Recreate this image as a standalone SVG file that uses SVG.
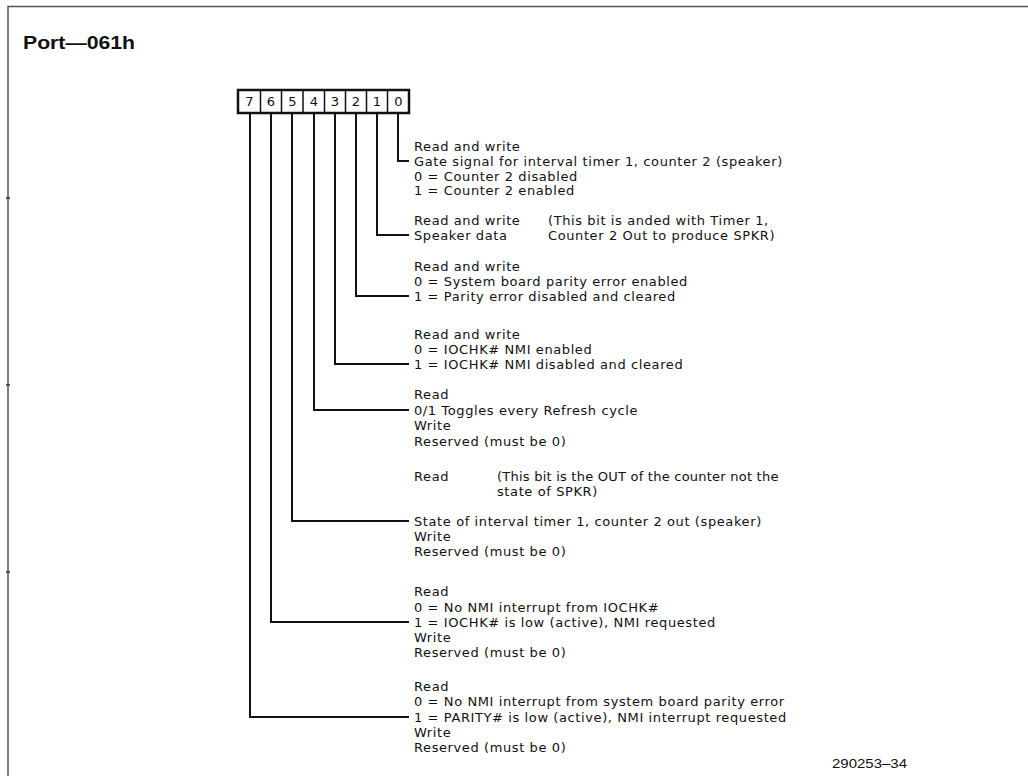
<svg xmlns="http://www.w3.org/2000/svg" width="1028" height="776" viewBox="0 0 1028 776">
<style>
.t{font-family:"DejaVu Sans","Liberation Sans",sans-serif;font-size:13px;letter-spacing:0.6px;fill:#111}
.d{font-family:"DejaVu Sans","Liberation Sans",sans-serif;font-size:13px;fill:#111;text-anchor:middle}
.ttl{font-family:"Liberation Sans",Arial,sans-serif;font-size:18px;font-weight:bold;fill:#111}
.fn{font-family:"Liberation Sans",Arial,sans-serif;font-size:13px;fill:#111}
.ld{fill:none;stroke:#111;stroke-width:2}
.frame{fill:none;stroke:#555;stroke-width:1.5}
</style>
<rect width="1028" height="776" fill="#fff"/>
<g id="frame">
<path class="frame" d="M8,776 V6.5 H1028"/>
<path d="M6,198 H10 M6,385 H10 M6,572 H10" stroke="#333" stroke-width="1.5"/>
</g>
<g id="title"><text class="ttl" x="23" y="49" textLength="112" lengthAdjust="spacingAndGlyphs">Port—061h</text></g>
<g id="register">
<rect x="238" y="90" width="171" height="23" fill="#fff" stroke="#111" stroke-width="2.5"/>
<path d="M260.5,90 V113 M281.5,90 V113 M303,90 V113 M324.5,90 V113 M345.5,90 V113 M366.5,90 V113 M387.5,90 V113" stroke="#111" stroke-width="1.5"/>
<text class="d" x="249.5" y="106">7</text>
<text class="d" x="271" y="106">6</text>
<text class="d" x="292.3" y="106">5</text>
<text class="d" x="313.8" y="106">4</text>
<text class="d" x="335" y="106">3</text>
<text class="d" x="356" y="106">2</text>
<text class="d" x="377" y="106">1</text>
<text class="d" x="398.3" y="106">0</text>
</g>
<g id="connectors">
<path class="ld" d="M398,113 V161 H409"/>
<path class="ld" d="M377,113 V235 H409"/>
<path class="ld" d="M356,113 V296 H409"/>
<path class="ld" d="M335,113 V364 H409"/>
<path class="ld" d="M314,113 V410 H409"/>
<path class="ld" d="M292,113 V521 H409"/>
<path class="ld" d="M271,113 V622 H409"/>
<path class="ld" d="M250,113 V717 H409"/>
</g>
<g id="bit0">
<text class="t" x="414" y="150.5">Read and write</text>
<text class="t" x="414" y="165.5">Gate signal for interval timer 1, counter 2 (speaker)</text>
<text class="t" x="414" y="180.5">0 = Counter 2 disabled</text>
<text class="t" x="414" y="194.5">1 = Counter 2 enabled</text>
</g>
<g id="bit1">
<text class="t" x="414" y="224.5">Read and write</text>
<text class="t" x="548" y="224.5">(This bit is anded with Timer 1,</text>
<text class="t" x="414" y="239.5">Speaker data</text>
<text class="t" x="548" y="239.5">Counter 2 Out to produce SPKR)</text>
</g>
<g id="bit2">
<text class="t" x="414" y="270.5">Read and write</text>
<text class="t" x="414" y="285.5">0 = System board parity error enabled</text>
<text class="t" x="414" y="300.5">1 = Parity error disabled and cleared</text>
</g>
<g id="bit3">
<text class="t" x="414" y="338.5">Read and write</text>
<text class="t" x="414" y="353.5">0 = IOCHK# NMI enabled</text>
<text class="t" x="414" y="368.5">1 = IOCHK# NMI disabled and cleared</text>
</g>
<g id="bit4">
<text class="t" x="414" y="398.5">Read</text>
<text class="t" x="414" y="414.5">0/1 Toggles every Refresh cycle</text>
<text class="t" x="414" y="429.5">Write</text>
<text class="t" x="414" y="445.5">Reserved (must be 0)</text>
</g>
<g id="bit5">
<text class="t" x="414" y="480.5">Read</text>
<text class="t" x="497" y="480.5" textLength="282" lengthAdjust="spacing">(This bit is the OUT of the counter not the</text>
<text class="t" x="497" y="495.5">state of SPKR)</text>
<text class="t" x="414" y="525.5">State of interval timer 1, counter 2 out (speaker)</text>
<text class="t" x="414" y="540.5">Write</text>
<text class="t" x="414" y="555.5">Reserved (must be 0)</text>
</g>
<g id="bit6">
<text class="t" x="414" y="595.5">Read</text>
<text class="t" x="414" y="611.5">0 = No NMI interrupt from IOCHK#</text>
<text class="t" x="414" y="626.5">1 = IOCHK# is low (active), NMI requested</text>
<text class="t" x="414" y="641.5">Write</text>
<text class="t" x="414" y="656.5">Reserved (must be 0)</text>
</g>
<g id="bit7">
<text class="t" x="414" y="690.5">Read</text>
<text class="t" x="414" y="705.5">0 = No NMI interrupt from system board parity error</text>
<text class="t" x="414" y="721.5">1 = PARITY# is low (active), NMI interrupt requested</text>
<text class="t" x="414" y="736.5">Write</text>
<text class="t" x="414" y="751.5">Reserved (must be 0)</text>
</g>
<g id="figno"><text class="fn" x="832" y="768" textLength="75" lengthAdjust="spacingAndGlyphs">290253–34</text></g>
</svg>
